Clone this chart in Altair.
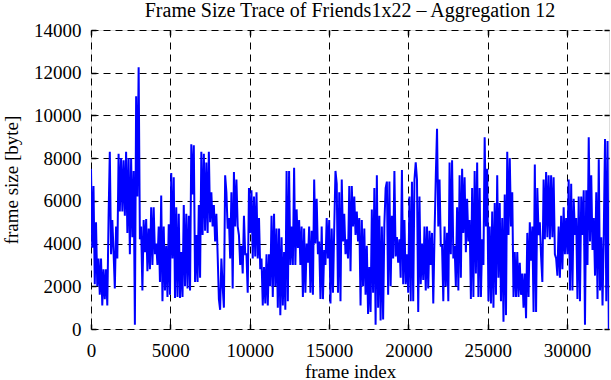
import altair as alt
import pandas as pd

TITLE = "Frame Size Trace of Friends1x22 \u2013 Aggregation 12"
X_TITLE = "frame index"
Y_TITLE = "frame size [byte]"
X_TICKS = [0, 5000, 10000, 15000, 20000, 25000, 30000]
Y_TICKS = [0, 2000, 4000, 6000, 8000, 10000, 12000, 14000]
X_MAX = 32640
Y_MAX = 14000
FRAME_STEP = 79  # frames between plotted (aggregated) samples

frame_size = [
    7500, 3800, 6700, 2100, 5000, 2000, 3300, 1600, 3300, 1100, 2800, 1400,
    2800, 1100, 5200, 8300, 3500, 5100, 3600, 1900, 4800, 3300, 8200, 5500,
    8000, 5500, 7900, 5300, 8300, 4500, 8000, 3500, 8000, 4300, 7400, 200,
    10900, 6200, 12250, 4200, 4800, 1800, 5100, 3600, 5150, 2700, 4700, 2800,
    5700, 3000, 5700, 3500, 4000, 3000, 4800, 2200, 6250, 1300, 4800, 1800,
    3900, 1500, 4900, 1600, 7300, 3300, 7100, 1450, 5700, 1500, 5400, 1450,
    3600, 1500, 5800, 2000, 5400, 1900, 5300, 1800, 8650, 6300, 8600, 2200,
    4400, 2200, 5800, 2400, 8300, 4400, 8200, 4600, 7800, 4500, 8300, 5000,
    6400, 4800, 5800, 4100, 5400, 3500, 1400, 900, 3300, 2000, 1000, 7200,
    6400, 4700, 5200, 3300, 6400, 1900, 7350, 4800, 7000, 4800, 4400, 3000,
    3900, 2600, 5300, 3500, 3500, 1700, 6600, 4500, 6500, 3300, 6200, 3400,
    6400, 3300, 5200, 2800, 3300, 1100, 2900, 1200, 3500, 1100, 3500, 2000,
    5300, 1500, 5400, 2000, 4700, 1000, 4700, 650, 4300, 1100, 3600, 900,
    7400, 1300, 7400, 3000, 4800, 3000, 7550, 3000, 5600, 3800, 5100, 3000,
    4800, 1500, 4700, 1700, 4000, 3100, 4800, 1700, 4600, 1600, 7000, 4000,
    6100, 3500, 4100, 1400, 4800, 1400, 3700, 3000, 5200, 3300, 5100, 1200,
    4700, 1700, 4700, 7400, 6800, 1700, 6400, 1300, 7000, 4100, 5400, 3500,
    4200, 3300, 6700, 2700, 6700, 4800, 6200, 4400, 5500, 4100, 5200, 1100,
    5100, 2000, 4700, 1600, 3900, 700, 2900, 800, 5600, 1700, 6600, 200,
    7200, 1000, 5300, 400, 4800, 450, 4900, 6600, 6900, 1600, 6900, 2000,
    5300, 3300, 7400, 3400, 4300, 3100, 4200, 2400, 7450, 2100, 5100, 2100,
    3500, 1700, 6200, 1300, 6900, 1300, 7000, 7800, 7000, 800, 6200, 2100,
    4000, 2300, 4800, 1800, 4800, 1900, 4600, 3000, 4500, 1200, 4400, 7100,
    9370, 4800, 7000, 3900, 3900, 1300, 4800, 2000, 4500, 1300, 7800, 3500,
    7900, 3300, 3900, 2000, 5700, 1800, 7200, 2400, 7500, 4500, 7100, 3600,
    6100, 4100, 5100, 1400, 6600, 1500, 7400, 2600, 7800, 1500, 6600, 1500,
    4200, 3000, 8980, 4800, 7500, 1300, 4800, 1200, 5500, 1000, 5900, 1600,
    7200, 2400, 5900, 1300, 5200, 340, 6300, 650, 8300, 4400, 8000, 4800,
    6400, 1500, 3600, 1500, 3600, 1500, 3100, 1600, 2600, 1000, 2600, 500,
    4500, 1500, 5000, 3200, 4800, 800, 7700, 800, 6600, 4400, 5000, 3400,
    2200, 7000, 4200, 7350, 4300, 7200, 4200, 7200, 4300, 7100, 3500, 3300,
    2500, 4800, 2400, 5300, 2800, 5700, 3500, 5200, 3500, 7000, 1800, 6800,
    1800, 6100, 4400, 5200, 1400, 6200, 1300, 6200, 4400, 6500, 200, 6500,
    3000, 8980, 4100, 7200, 3700, 5200, 2500, 6400, 1400, 7950, 1800, 4300,
    1100, 4500, 8900, 1300, 8800, 0,
]

frame_index = [i * FRAME_STEP for i in range(len(frame_size))]
df = pd.DataFrame({"frame": frame_index, "size": frame_size})

FONT = "Liberation Serif"
FS = 19
TICK = 5

x_scale = alt.Scale(domain=[0, X_MAX], nice=False, zero=False)
y_scale = alt.Scale(domain=[0, Y_MAX], nice=False)

base = alt.Chart(df)

main = base.mark_line(color="#0000ff", strokeWidth=2, clip=True).encode(
    x=alt.X("frame:Q", scale=x_scale,
            axis=alt.Axis(values=X_TICKS, format="d", title=X_TITLE, orient="bottom",
                          grid=True, gridColor="black", gridDash=[7, 5], gridWidth=1, gridOpacity=1,
                          tickSize=0, domain=False, labelPadding=12, labelFont=FONT, labelFontSize=FS,
                          labelColor="black", titleFont=FONT, titleFontSize=FS, titleFontWeight="normal",
                          titleColor="black", titlePadding=2, labelFlush=False)),
    y=alt.Y("size:Q", scale=y_scale,
            axis=alt.Axis(values=Y_TICKS, format="d", title=Y_TITLE, orient="left",
                          grid=True, gridColor="black", gridDash=[7, 5], gridWidth=1, gridOpacity=1,
                          tickSize=0, domain=False, labelPadding=10, labelFont=FONT, labelFontSize=FS,
                          labelColor="black", titleFont=FONT, titleFontSize=FS, titleFontWeight="normal",
                          titleColor="black", titlePadding=12, labelFlush=False)),
)


def tick_axis(values, orient):
    return alt.Axis(values=values, orient=orient, offset=-TICK, tickSize=TICK, tickWidth=1.5,
                    tickColor="black", labels=False, grid=False, domain=False, title=None)


ticks_bl = base.mark_line(opacity=0).encode(
    x=alt.X("frame:Q", scale=x_scale, axis=tick_axis(X_TICKS, "bottom")),
    y=alt.Y("size:Q", scale=y_scale, axis=tick_axis(Y_TICKS, "left")),
)
ticks_tr = base.mark_line(opacity=0).encode(
    x=alt.X("frame:Q", scale=x_scale, axis=tick_axis(X_TICKS, "top")),
    y=alt.Y("size:Q", scale=y_scale, axis=tick_axis(Y_TICKS, "right")),
)

chart = alt.layer(main, ticks_bl, ticks_tr).resolve_axis(
    x="independent", y="independent"
).properties(
    width=518,
    height=299,
    title=alt.TitleParams(TITLE, font=FONT, fontSize=FS + 1, fontWeight="normal", color="black",
                          anchor="middle", baseline="alphabetic", offset=0, dy=15.5),
    autosize=alt.AutoSizeParams(type="none"),
    padding={"left": 91, "top": 30, "right": 2, "bottom": 51},
).configure_view(
    stroke="black", strokeWidth=1.5
).configure(background="white")

chart.save("out.html", embed_options={"renderer": "svg", "actions": False})
